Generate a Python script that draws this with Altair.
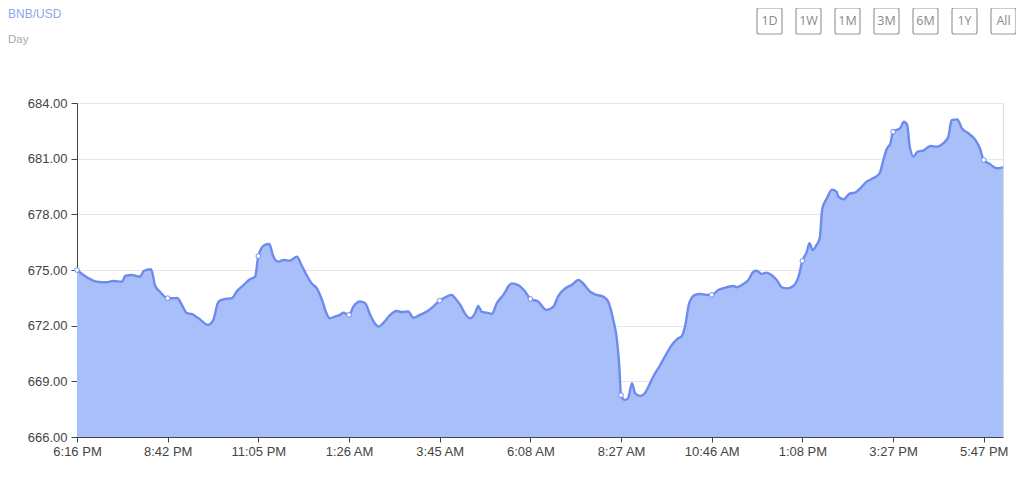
import altair as alt
import pandas as pd

# ---- data ----
minutes = [0, 10, 31, 46, 56, 70, 75, 85, 98, 104, 115, 118, 121, 129, 141, 150, 156, 163, 171, 178,
           189, 204, 212, 220, 228, 241, 248, 259, 269, 277, 282, 292, 299, 305, 313, 321, 331, 342, 349, 357,
           365, 373, 381, 388, 393, 401, 409, 414, 423, 430, 440, 448, 456, 463, 469, 476, 487, 497, 505, 515,
           523, 533, 544, 554, 564, 575, 583, 588, 596, 603, 611, 619, 624, 629, 637, 645, 653, 663, 676, 686,
           697, 705, 717, 730, 741, 748, 759, 769, 780, 787, 798, 808, 818, 826, 834, 839, 843, 846, 852, 857,
           863, 868, 876, 883, 890, 896, 907, 917, 927, 935, 940, 946, 952, 961, 969, 979, 987, 997, 1010, 1021,
           1026, 1036, 1044, 1052, 1057, 1065, 1072, 1080, 1088, 1096, 1104, 1114, 1122, 1128, 1135, 1139, 1144, 1150, 1155, 1159,
           1166, 1174, 1181, 1184, 1192, 1202, 1210, 1218, 1228, 1238, 1248, 1254, 1259, 1265, 1269, 1280, 1286, 1291, 1295, 1301,
           1307, 1316, 1327, 1337, 1347, 1355, 1360, 1369, 1376, 1386, 1397, 1404, 1410, 1420, 1430, 1440]
prices = [675.00, 674.73, 674.37, 674.34, 674.41, 674.37, 674.68, 674.73, 674.64, 674.96, 675.04, 674.73, 674.19, 673.83, 673.48, 673.48, 673.49, 673.12, 672.67, 672.63,
          672.40, 672.04, 672.31, 673.30, 673.42, 673.48, 673.83, 674.19, 674.50, 674.64, 675.75, 676.35, 676.40, 675.76, 675.45, 675.54, 675.50, 675.72, 675.27, 674.73,
          674.28, 674.01, 673.39, 672.67, 672.40, 672.49, 672.58, 672.70, 672.58, 673.03, 673.30, 673.21, 672.58, 672.13, 671.95, 672.13, 672.58, 672.79, 672.74, 672.76,
          672.43, 672.58, 672.76, 673.03, 673.35, 673.57, 673.66, 673.48, 673.12, 672.67, 672.40, 672.67, 673.06, 672.76, 672.70, 672.63, 673.21, 673.66, 674.28, 674.19,
          673.83, 673.44, 673.30, 672.85, 673.03, 673.57, 674.01, 674.19, 674.46, 674.28, 673.83, 673.66, 673.57, 673.30, 672.31, 671.41, 669.98, 668.25, 668.00, 668.09,
          668.90, 668.36, 668.21, 668.36, 668.81, 669.25, 669.88, 670.51, 671.05, 671.32, 671.41, 672.04, 673.21, 673.66, 673.71, 673.66, 673.66, 673.92, 674.07, 674.14,
          674.07, 674.25, 674.46, 674.91, 674.96, 674.79, 674.86, 674.73, 674.46, 674.07, 674.01, 674.14, 674.64, 675.49, 675.99, 676.44, 676.08, 676.35, 676.71, 678.30,
          678.85, 679.33, 679.22, 678.95, 678.81, 679.13, 679.17, 679.40, 679.76, 679.94, 680.21, 680.93, 681.51, 681.83, 682.45, 682.64, 682.99, 682.81, 681.65, 681.11,
          681.38, 681.43, 681.68, 681.65, 681.83, 682.18, 683.08, 683.12, 682.64, 682.37, 682.01, 681.56, 680.93, 680.70, 680.48, 680.53]

tick_minutes = [0, 141, 282, 423, 564, 705, 846, 987, 1128, 1269, 1410]
tick_labels = ["6:16 PM", "8:42 PM", "11:05 PM", "1:26 AM", "3:45 AM", "6:08 AM",
               "8:27 AM", "10:46 AM", "1:08 PM", "3:27 PM", "5:47 PM"]
y_ticks = [666, 669, 672, 675, 678, 681, 684]
buttons = ["1D", "1W", "1M", "3M", "6M", "1Y", "All"]

df = pd.DataFrame({"minute": minutes, "price": prices})

FILL = "#a9bff9"
LINE = "#6d8bef"
FONT = "Liberation Sans"

label_expr = "[" + ",".join("'%s'" % t for t in tick_labels) + "][round(datum.value / 141)]"

x_enc = alt.X("minute:Q",
              scale=alt.Scale(domain=[0, 1440], nice=False, zero=False),
              axis=alt.Axis(values=tick_minutes, labelExpr=label_expr, title=None, grid=False,
                            labelFlush=False, labelFontSize=13, labelColor="#444", labelFont=FONT,
                            tickColor="#444", tickSize=5, domainColor="#444", labelPadding=3))
y_enc = alt.Y("price:Q",
              scale=alt.Scale(domain=[666, 684], nice=False, zero=False),
              axis=alt.Axis(values=y_ticks, format=".2f", title=None, grid=True, gridColor="#e6e6e6",
                            labelFontSize=13, labelColor="#444", labelFont=FONT,
                            tickColor="#444", tickSize=6, domainColor="#444", labelPadding=4))

area = alt.Chart(df).mark_area(
    color=FILL, opacity=1, interpolate="monotone",
    line=alt.LineConfig(color=LINE, strokeWidth=2.4)
).encode(x=x_enc, y=y_enc, y2=alt.datum(666))

dots = alt.Chart(df).transform_filter(
    alt.FieldOneOfPredicate(field="minute", oneOf=tick_minutes)
).mark_point(filled=True, fill="white", stroke=LINE, strokeWidth=1, size=22, opacity=1).encode(
    x="minute:Q", y="price:Q")

title = alt.Chart(pd.DataFrame({"t": ["BNB/USD"]})).mark_text(
    align="left", baseline="top", fontSize=12, color="#8da6ee", font=FONT
).encode(text="t:N", x=alt.value(-69), y=alt.value(-94))

sub = alt.Chart(pd.DataFrame({"t": ["Day"]})).mark_text(
    align="left", baseline="alphabetic", fontSize=11.5, color="#aaaaaa", font=FONT
).encode(text="t:N", x=alt.value(-69), y=alt.value(-60))

layers = [area, dots, title, sub]
for i, b in enumerate(buttons):
    x0 = 680 + i * 39
    rect = alt.Chart(pd.DataFrame({"t": [b]})).mark_rect(
        fill="white", stroke="#9a9a9a", strokeWidth=1.2, cornerRadius=2
    ).encode(x=alt.value(x0), x2=alt.value(x0 + 25), y=alt.value(-95), y2=alt.value(-69))
    txt = alt.Chart(pd.DataFrame({"t": [b]})).mark_text(
        align="center", baseline="middle", fontSize=12.5, color="#8a8a8a", font="Open Sans"
    ).encode(text="t:N", x=alt.value(x0 + 12.5), y=alt.value(-82))
    layers += [rect, txt]

chart = alt.layer(*layers).properties(
    width=926, height=334,
    autosize=alt.AutoSizeParams(type="none"),
    padding={"left": 69, "top": 95, "right": 13, "bottom": 30}
).configure_view(stroke=None).configure(background="white")

chart.save("out.html", embed_options={"renderer": "svg", "actions": False})
